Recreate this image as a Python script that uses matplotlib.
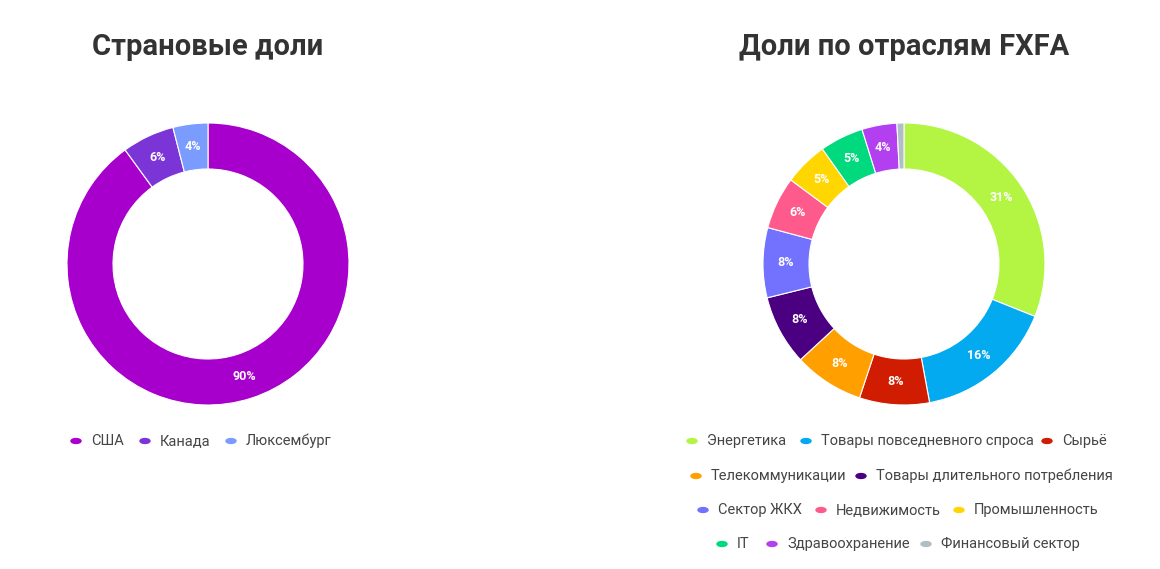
import matplotlib.pyplot as plt

plt.rcParams['font.family'] = 'Roboto'

W, H = 1160, 569

# data
country_labels = ['США', 'Канада', 'Люксембург']
country_values = [90, 6, 4]
country_colors = ['#a700cc', '#7b35d6', '#7b9cff']

sector_labels = ['Энергетика', 'Товары повседневного спроса', 'Сырьё',
                 'Телекоммуникации', 'Товары длительного потребления',
                 'Сектор ЖКХ', 'Недвижимость', 'Промышленность',
                 'IT', 'Здравоохранение', 'Финансовый сектор']
sector_values = [31, 16, 8, 8, 8, 8, 6, 5, 5, 4, 0.8]
sector_colors = ['#b3f542', '#03aaf0', '#d01c00', '#ffa000', '#4b0082',
                 '#7272ff', '#ff5a8c', '#ffd600', '#00d97e', '#b23ff0', '#b0bec5']

fig = plt.figure(figsize=(W / 100, H / 100), dpi=100)


def donut(cx, cy, values, colors):
    r = 141
    ax = fig.add_axes([(cx - r) / W, (H - cy - r) / H, 2 * r / W, 2 * r / H])
    wedges, texts = ax.pie(values, colors=colors, startangle=90, counterclock=False,
                           wedgeprops=dict(width=46 / 141, edgecolor='white', linewidth=0.8))
    for w, v in zip(wedges, values):
        if v >= 3:
            import numpy as np
            ang = np.deg2rad((w.theta1 + w.theta2) / 2)
            rr = 1 - 23 / 141
            ax.text(rr * np.cos(ang), rr * np.sin(ang), f'{v:.0f}%', ha='center', va='center',
                    color='white', fontsize=9, fontweight='bold')
    ax.set_xlim(-1, 1)
    ax.set_ylim(-1, 1)
    ax.set_aspect('equal')
    ax.axis('off')


def legend_item(x, y, label, color):
    fig.patches.append(plt.Circle((x / W, 1 - y / H), 5 / W, color=color,
                                  transform=fig.transFigure, figure=fig))
    fig.text((x + 15) / W, 1 - y / H, label, fontsize=10.5, color='#444444',
             ha='left', va='center')


donut(208, 264, country_values, country_colors)
donut(904, 264, sector_values, sector_colors)

fig.text(208 / W, 1 - 47 / H, 'Страновые доли', fontsize=21, fontweight='bold',
         color='#333333', ha='center', va='center')
fig.text(904 / W, 1 - 47 / H, 'Доли по отраслям FXFA', fontsize=21, fontweight='bold',
         color='#333333', ha='center', va='center')

left_x = [76, 145, 231]
for x, lab, c in zip(left_x, country_labels, country_colors):
    legend_item(x, 441, lab, c)

right_pos = [(692, 441), (806, 441), (1047, 441),
             (696, 476), (861, 476),
             (703, 510), (821, 510), (959, 510),
             (722, 544), (772, 544), (926, 544)]
for (x, y), lab, c in zip(right_pos, sector_labels, sector_colors):
    legend_item(x, y, lab, c)

fig.savefig('out.png', dpi=100, facecolor='white')
